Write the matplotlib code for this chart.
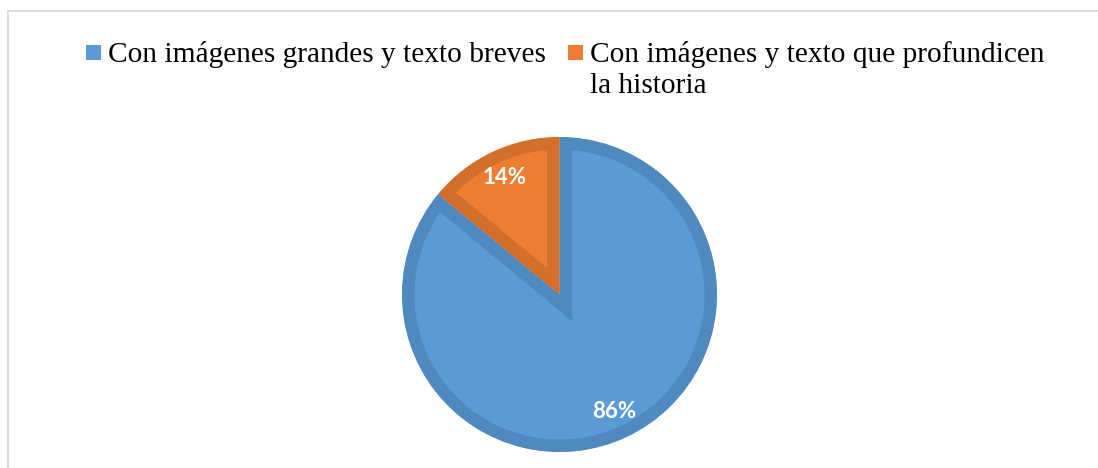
import matplotlib.pyplot as plt
from matplotlib.patches import Rectangle
from matplotlib.lines import Line2D

# datos del grafico
labels = ["Con imágenes grandes y texto breves",
          "Con imágenes y texto que profundicen\nla historia"]
values = [86, 14]
colors = ["#5B9BD5", "#ED7D31"]
edge_colors = ["#4F89C0", "#D46F2B"]

W, H = 1098, 468
fig = plt.figure(figsize=(W / 100, H / 100), dpi=100)

# marco gris (arriba e izquierda)
fig.add_artist(Line2D([7.5 / W, 7.5 / W], [0, 1 - 11 / H], color="#D9D9D9", lw=1.3))
fig.add_artist(Line2D([7.5 / W, 1], [1 - 11 / H, 1 - 11 / H], color="#D9D9D9", lw=1.3))

# torta
cx, cy, R = 559.5, 468 - 294.5, 157.5
ax = fig.add_axes([(cx - R) / W, (cy - R) / H, 2 * R / W, 2 * R / H])
wedges, texts, autotexts = ax.pie(values, colors=colors, startangle=90, counterclock=False,
                                  autopct="%1.0f%%", pctdistance=0.82, radius=1,
                                  textprops=dict(color="white", fontsize=16,
                                                 fontweight="bold", family="Lato"))
for w, ec in zip(wedges, edge_colors):
    w.set_edgecolor(ec)
    w.set_linewidth(18)
    w.set_clip_path(w)
    w.set_clip_on(True)
ax.set_xlim(-1, 1)
ax.set_ylim(-1, 1)
ax.axis("off")

# leyenda hecha a mano
leg_x = [86, 567.5]
for i in range(len(labels)):
    fig.add_artist(Rectangle((leg_x[i] / W, 1 - 59.5 / H), 15 / W, 15 / H,
                             transform=fig.transFigure, color=colors[i], lw=0))
    fig.text((leg_x[i] + 22) / W, 1 - 41 / H, labels[i], family="Liberation Serif",
             fontsize=21.2, va="top", ha="left", linespacing=1.26, color="black")

plt.savefig("out.png", dpi=100)
